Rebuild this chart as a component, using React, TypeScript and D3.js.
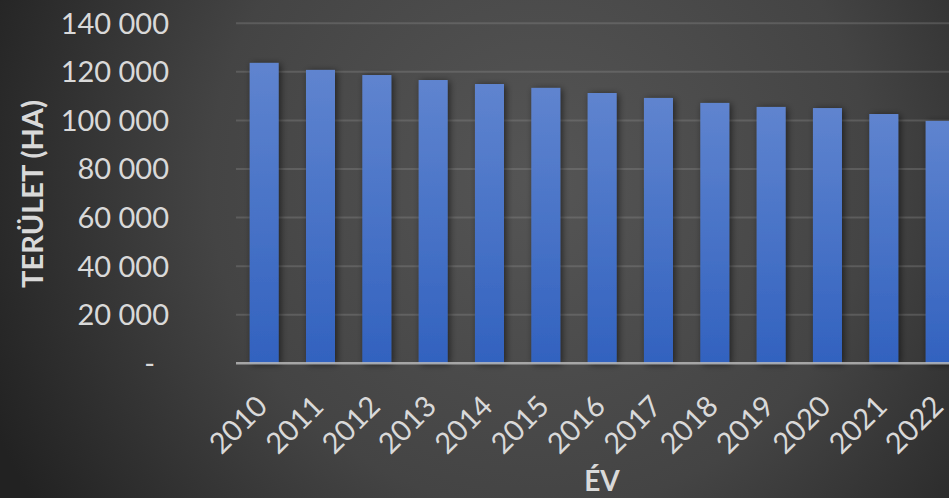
import React from 'react';
import * as d3 from 'd3';

const years = ['2010', '2011', '2012', '2013', '2014', '2015', '2016', '2017', '2018', '2019', '2020', '2021', '2022'];
const areas = [123700, 120800, 118700, 116650, 115000, 113400, 111300, 109250, 107200, 105550, 105100, 102650, 99800];
const yTicks = [0, 20000, 40000, 60000, 80000, 100000, 120000, 140000];
const yTickLabels = ['-', '20 000', '40 000', '60 000', '80 000', '100 000', '120 000', '140 000'];
const yTitle = 'TERÜLET (HA)';
const xTitle = 'ÉV';

const W = 949;
const H = 498;
const FONT = 'Lato, "Open Sans", sans-serif';
const TEXT = '#d9d9d9';

export default function App() {
  const y = d3.scaleLinear().domain([0, 140000]).range([363.3, 23.3]);
  const x = d3
    .scaleBand<string>()
    .domain(years)
    .range([236, 236 + 13 * 56.33])
    .paddingInner(0.485)
    .paddingOuter(0.2425);
  const bw = x.bandwidth();

  return (
    <svg
      width={W}
      height={H}
      style={{ position: 'absolute', left: 0, top: 0, display: 'block' }}
      fontFamily={FONT}
    >
      <defs>
        <radialGradient id="bg" gradientUnits="userSpaceOnUse" cx={540} cy={180} r={600}>
          <stop offset="0" stopColor="#555555" />
          <stop offset="0.55" stopColor="#444444" />
          <stop offset="1" stopColor="#222222" />
        </radialGradient>
        <linearGradient id="bar" x1="0" y1="0" x2="0" y2="1">
          <stop offset="0" stopColor="#5f84cf" />
          <stop offset="1" stopColor="#3262bf" />
        </linearGradient>
        <filter id="shadow" x="-50%" y="-10%" width="200%" height="120%">
          <feGaussianBlur in="SourceAlpha" stdDeviation="3.5" />
          <feOffset dx="1.5" dy="1" result="b" />
          <feComponentTransfer>
            <feFuncA type="linear" slope="0.55" />
          </feComponentTransfer>
          <feMerge>
            <feMergeNode />
            <feMergeNode in="SourceGraphic" />
          </feMerge>
        </filter>
      </defs>
      <rect x={0} y={0} width={W} height={H} fill="url(#bg)" />

      {/* gridlines */}
      {yTicks.slice(1).map((t) => (
        <line
          key={t}
          x1={236}
          x2={W}
          y1={y(t)}
          y2={y(t)}
          stroke="rgba(150,150,150,0.3)"
          strokeWidth={2}
        />
      ))}

      {/* bars */}
      {years.map((yr, i) => (
        <rect
          key={yr}
          x={x(yr)}
          y={y(areas[i])}
          width={bw}
          height={y(0) - y(areas[i])}
          fill="url(#bar)"
          filter="url(#shadow)"
        />
      ))}

      {/* axis line */}
      <line x1={236} x2={W} y1={y(0)} y2={y(0)} stroke="rgba(190,190,190,0.8)" strokeWidth={2.5} />

      {/* y tick labels */}
      {yTicks.map((t, i) => (
        <text
          key={t}
          x={yTickLabels[i] === '-' ? 155 : 169}
          y={y(t)}
          dy="0.36em"
          textAnchor="end"
          fill={TEXT}
          fontSize={29}
        >
          {yTickLabels[i]}
        </text>
      ))}

      {/* x tick labels */}
      {years.map((yr) => {
        const cx = (x(yr) as number) + bw / 2;
        return (
          <text
            key={yr}
            transform={`translate(${cx + 5},408) rotate(-45)`}
            textAnchor="end"
            fill={TEXT}
            fontSize={29}
          >
            {yr}
          </text>
        );
      })}

      {/* axis titles */}
      <text
        transform="translate(43,194) rotate(-90)"
        textAnchor="middle"
        fill={TEXT}
        fontSize={29}
        fontWeight="bold"
      >
        {yTitle}
      </text>
      <text x={602} y={491} textAnchor="middle" fill={TEXT} fontSize={28} fontWeight="bold">
        {xTitle}
      </text>
    </svg>
  );
}
